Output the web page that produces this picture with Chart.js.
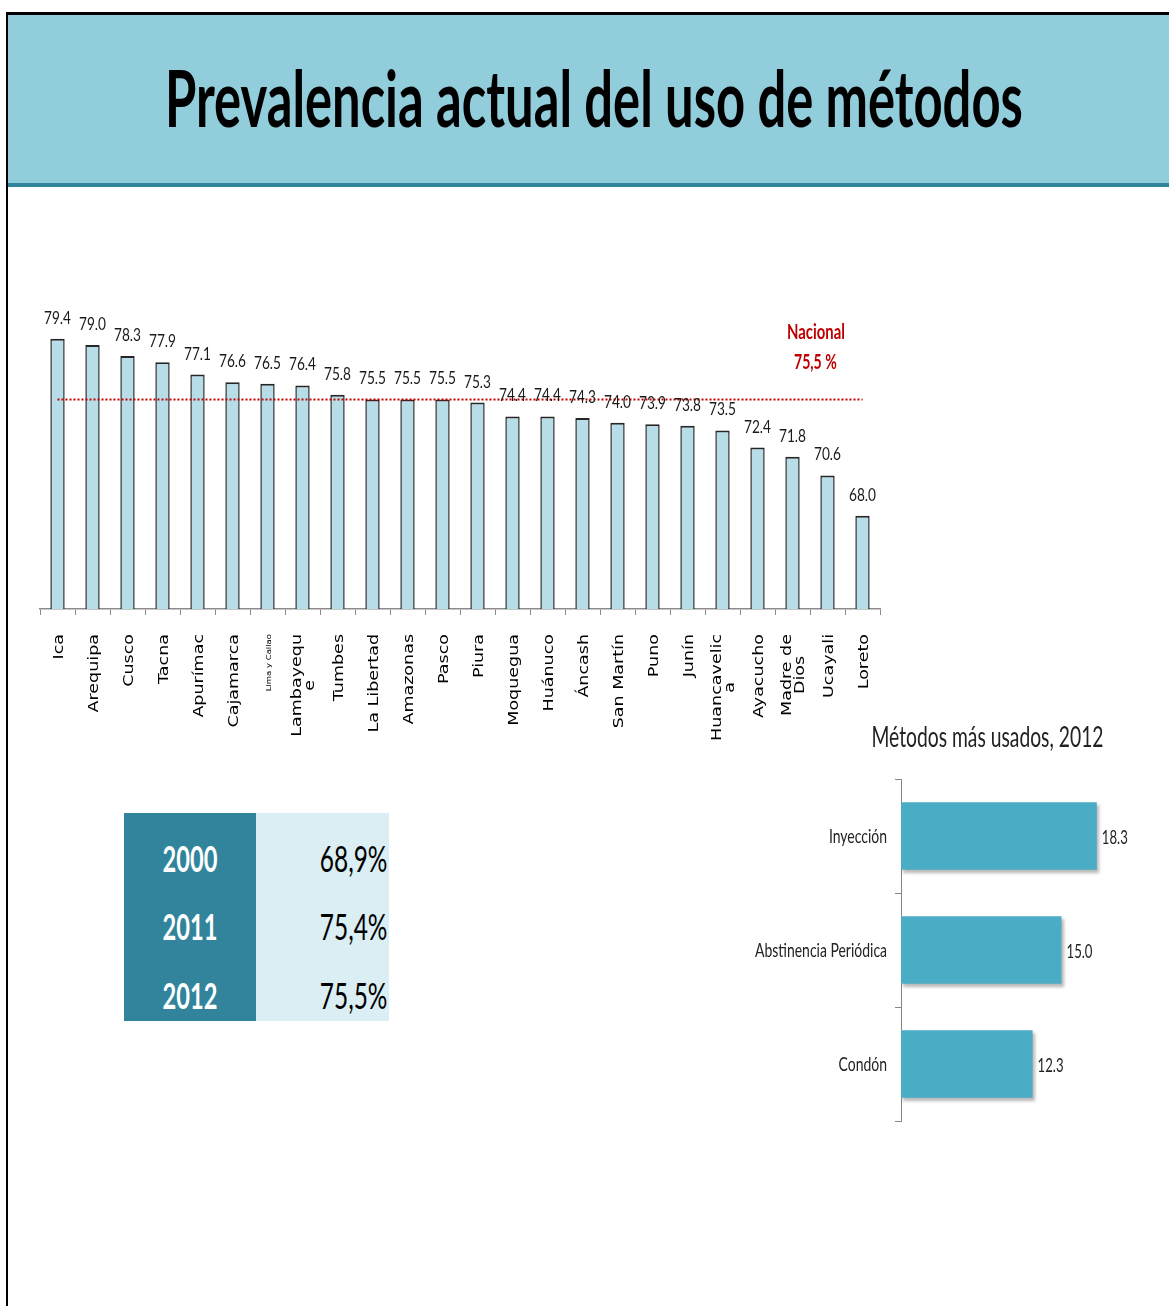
<!DOCTYPE html>
<html><head><meta charset="utf-8">
<script src="https://cdn.jsdelivr.net/npm/chart.js@4.4.1/dist/chart.umd.min.js"></script>
<style>
html,body{margin:0;padding:0;background:#fff;}
body{width:1169px;height:1306px;position:relative;overflow:hidden;font-family:Lato,sans-serif;}
.abs{position:absolute;}
.txt{position:absolute;white-space:nowrap;line-height:1;}
</style></head><body>
<div class="abs" style="left:6px;top:12px;width:1170px;height:3px;background:#000"></div>
<div class="abs" style="left:6px;top:12px;width:2px;height:1300px;background:#000"></div>
<div class="abs" style="left:8px;top:15px;width:1165px;height:168px;background:#92CDDC"></div>
<div class="abs" style="left:8px;top:183px;width:1165px;height:4px;background:#31849B"></div>
<div class="abs" style="left:124px;top:813px;width:132px;height:208px;background:#31849B"></div>
<div class="abs" style="left:256px;top:813px;width:133px;height:208px;background:#DAEEF3"></div>
<canvas id="c1" class="abs" style="left:0px;top:290px;width:900px;height:460px" width="900" height="460"></canvas>
<canvas id="c2" class="abs" style="left:740px;top:760px;width:420px;height:380px" width="420" height="380"></canvas>
<script>
// ---- data ----
const regions = ['Ica','Arequipa','Cusco','Tacna','Apurímac','Cajamarca','Lima y Callao',['Lambayequ','e'],'Tumbes','La Libertad','Amazonas','Pasco','Piura','Moquegua','Huánuco','Áncash','San Martín','Puno','Junín',['Huancavelic','a'],'Ayacucho',['Madre de','Dios'],'Ucayali','Loreto'];
const prevalence = [79.4,79.0,78.3,77.9,77.1,76.6,76.5,76.4,75.8,75.5,75.5,75.5,75.3,74.4,74.4,74.3,74.0,73.9,73.8,73.5,72.4,71.8,70.6,68.0];
const nacional = 75.5;
const years = ['2000','2011','2012'];
const yearRates = [68.9,75.4,75.5];
const methods = ['Inyección','Abstinencia Periódica','Condón'];
const methodValues = [18.3,15.0,12.3];

const FONT = 'Lato, "Open Sans", sans-serif';
const TICKFONT = '"DejaVu Sans", Verdana, sans-serif';

// ---- html text helper ----
function place(text, x, y, o){
  const d = document.createElement('div');
  d.className = 'txt';
  d.textContent = text;
  d.style.font = o.font;
  d.style.color = o.color || '#000';
  document.body.appendChild(d);
  const w = d.offsetWidth, h = d.offsetHeight;
  const s = o.width ? o.width / w : (o.sx || 1);
  const align = o.align || 'center';
  let left;
  if (align === 'center'){ left = x - w/2; d.style.transformOrigin = '50% 50%'; }
  else if (align === 'right'){ left = x - w; d.style.transformOrigin = '100% 50%'; }
  else { left = x; d.style.transformOrigin = '0 50%'; }
  d.style.left = left + 'px';
  d.style.top = (y - h*0.53) + 'px';
  d.style.transform = 'scaleX(' + s + ')';
}
function fmtComma(v){ return v.toFixed(1).replace('.', ','); }

place('Prevalencia actual del uso de métodos', 594, 100, {font:'bold 78px '+FONT, width:858});
years.forEach((y,i)=>{
  place(y, 190, 858.5 + i*68.5, {font:'bold 37px '+FONT, color:'#fff', sx:0.64});
  place(fmtComma(yearRates[i]) + '%', 387, 858.5 + i*68.5, {font:'37px '+FONT, color:'#000', sx:0.66, align:'right'});
});
place('Métodos más usados, 2012', 987, 737, {font:'28px '+FONT, color:'#222', width:232});
place('Nacional', 816, 332, {font:'bold 20px '+FONT, color:'#C00000', width:58});
place(fmtComma(nacional) + ' %', 815, 362, {font:'bold 20px '+FONT, color:'#C00000', width:43});

// ---- canvas text helper ----
function ctext(ctx, text, x, y, font, color, align, sx){
  ctx.save();
  ctx.translate(x, y);
  ctx.scale(sx, 1);
  ctx.font = font;
  ctx.fillStyle = color;
  ctx.textAlign = align;
  ctx.textBaseline = 'alphabetic';
  ctx.fillText(text, 0, 0);
  ctx.restore();
}
function sxFor(ctx, font, sample, target){
  ctx.save(); ctx.font = font; const w = ctx.measureText(sample).width; ctx.restore();
  return target / w;
}

const barLabels = {
  id:'barLabels',
  afterDatasetsDraw(chart){
    const ctx = chart.ctx;
    const f = '18px ' + FONT;
    const sx = sxFor(ctx, f, '79.4', 27);
    chart.getDatasetMeta(0).data.forEach((bar, i)=>{
      ctext(ctx, prevalence[i].toFixed(1), bar.x, bar.y - 15, f, '#1a1a1a', 'center', sx);
    });
  },
  afterDraw(chart){
    // rotated category labels: block ends near the axis, lines centred within the block
    const ctx = chart.ctx;
    const xs = chart.scales.x;
    const top = xs.top + 25;
    regions.forEach((lab, i)=>{
      const lines = Array.isArray(lab) ? lab : [lab];
      const font = (i === 6 ? '8.5px ' : '17.5px ') + TICKFONT;
      ctx.save();
      ctx.font = font;
      const maxW = Math.max(...lines.map(l => ctx.measureText(l).width));
      ctx.translate(xs.getPixelForTick(i) + 1.5, top);
      ctx.rotate(-Math.PI/2);
      ctx.scale(1, 0.84);
      ctx.fillStyle = '#000';
      ctx.textAlign = 'center';
      ctx.textBaseline = 'middle';
      lines.forEach((l, j)=>{
        ctx.fillText(l, -maxW/2, (j - (lines.length-1)/2) * 13 / 0.84);
      });
      ctx.restore();
    });
  }
};

new Chart(document.getElementById('c1'), {
  data: {
    labels: regions,
    datasets: [
      {type:'bar', data: prevalence, backgroundColor:'#B7DEE8', borderColor:'#262626',
       borderWidth:{top:2,left:1.5,right:1.5,bottom:0}, borderSkipped:'start',
       barPercentage:0.41, categoryPercentage:1, order:2},
      {type:'line', data: regions.map(()=>nacional), borderColor:'#C00000', borderWidth:2,
       borderDash:[2,2], pointRadius:0, fill:false, order:1}
    ]
  },
  options: {
    responsive:false, animation:false,
    layout:{padding:{left:40,right:20,top:24,bottom:0}},
    plugins:{legend:{display:false}, tooltip:{enabled:false}},
    scales:{
      x:{
        grid:{display:true, drawOnChartArea:false, drawTicks:true, tickLength:6, color:'#8c8c8c', offset:true},
        border:{display:true, color:'#8c8c8c', width:1.5},
        ticks:{display:false, autoSkip:false},
        afterFit:(s)=>{ s.height = 141; }
      },
      y:{display:false, min:62, max:81}
    }
  },
  plugins:[barLabels]
});

const hbarDeco = {
  id:'hbarDeco',
  beforeDatasetsDraw(chart){
    const ctx = chart.ctx;
    ctx.save();
    ctx.shadowColor = 'rgba(0,0,0,0.28)';
    ctx.shadowOffsetX = 2; ctx.shadowOffsetY = 3; ctx.shadowBlur = 3;
  },
  afterDatasetsDraw(chart){
    const ctx = chart.ctx;
    ctx.restore();
    const fl = '19px ' + FONT;
    const sxl = sxFor(ctx, fl, 'Abstinencia Periódica', 132);
    const ys = chart.scales.y;
    methods.forEach((m, i)=>{
      ctext(ctx, m, chart.chartArea.left - 14, ys.getPixelForTick(i) + 7, fl, '#222', 'right', sxl);
    });
    const fv = '19px ' + FONT;
    const sxv = sxFor(ctx, fv, '18.3', 26);
    chart.getDatasetMeta(0).data.forEach((bar, i)=>{
      ctext(ctx, methodValues[i].toFixed(1), bar.x + 5, bar.y + 8, fv, '#222', 'left', sxv);
    });
  }
};

new Chart(document.getElementById('c2'), {
  type:'bar',
  data:{labels:methods, datasets:[{data:methodValues, backgroundColor:'#4BACC6', borderWidth:0, barPercentage:0.59, categoryPercentage:1}]},
  options:{
    indexAxis:'y', responsive:false, animation:false,
    layout:{padding:{top:19,bottom:19,right:45,left:0}},
    plugins:{legend:{display:false}, tooltip:{enabled:false}},
    scales:{
      x:{display:false, min:0, max:20},
      y:{grid:{drawOnChartArea:false, drawTicks:true, tickLength:6, color:'#868686', offset:true},
         border:{display:true, color:'#868686'},
         ticks:{display:false},
         afterFit:(s)=>{ s.width = 161; }}
    }
  },
  plugins:[hbarDeco]
});
</script>
</body></html>
